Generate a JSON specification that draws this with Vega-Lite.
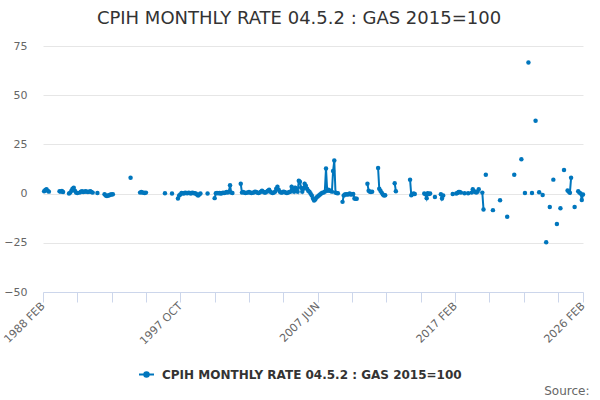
{
  "$schema": "https://vega.github.io/schema/vega-lite/v6.json",
  "autosize": "none",
  "width": 540,
  "height": 246,
  "padding": {"left": 43, "top": 46, "right": 17, "bottom": 108},
  "background": "white",
  "title": {
    "text": "CPIH MONTHLY RATE 04.5.2 : GAS 2015=100",
    "font": "DejaVu Sans",
    "fontSize": 18,
    "fontWeight": "normal",
    "color": "#333333",
    "anchor": "middle",
    "frame": "group",
    "offset": 12,
    "dx": -14
  },
  "config": {
    "view": {"stroke": null},
    "font": "DejaVu Sans"
  },
  "data": {
    "values": [
      {"d": "1988-03-01", "v": 1.2}, {"d": "1988-04-01", "v": 1.8}, {"d": "1988-05-01", "v": 2.2}, {"d": "1988-06-01", "v": 1.5}, {"d": "1988-07-01", "v": 1.0}, {"d": "1988-08-01", "v": null},
      {"d": "1989-04-01", "v": 1.2}, {"d": "1989-05-01", "v": 1.0}, {"d": "1989-06-01", "v": 1.3}, {"d": "1989-07-01", "v": 0.8}, {"d": "1989-08-01", "v": null},
      {"d": "1989-12-01", "v": 0.0}, {"d": "1990-01-01", "v": 0.5}, {"d": "1990-02-01", "v": 1.5}, {"d": "1990-03-01", "v": 2.5}, {"d": "1990-04-01", "v": 3.0}, {"d": "1990-05-01", "v": 1.5}, {"d": "1990-06-01", "v": 0.5}, {"d": "1990-07-01", "v": 0.3}, {"d": "1990-08-01", "v": null},
      {"d": "1990-09-01", "v": 0.5}, {"d": "1990-10-01", "v": 1.0}, {"d": "1990-11-01", "v": 1.2}, {"d": "1990-12-01", "v": 0.8}, {"d": "1991-01-01", "v": 1.0}, {"d": "1991-02-01", "v": 1.2}, {"d": "1991-03-01", "v": 1.0}, {"d": "1991-04-01", "v": 0.8}, {"d": "1991-05-01", "v": 1.0}, {"d": "1991-06-01", "v": 1.2}, {"d": "1991-07-01", "v": 0.8}, {"d": "1991-08-01", "v": 0.5}, {"d": "1991-09-01", "v": null},
      {"d": "1991-12-01", "v": 0.3}, {"d": "1992-01-01", "v": null},
      {"d": "1992-06-01", "v": -0.3}, {"d": "1992-07-01", "v": -1.0}, {"d": "1992-08-01", "v": -1.2}, {"d": "1992-09-01", "v": -1.0}, {"d": "1992-10-01", "v": -0.8}, {"d": "1992-11-01", "v": -0.5}, {"d": "1992-12-01", "v": -0.5}, {"d": "1993-01-01", "v": -0.3}, {"d": "1993-02-01", "v": null},
      {"d": "1994-04-01", "v": 8.1}, {"d": "1994-05-01", "v": null},
      {"d": "1994-12-01", "v": 0.5}, {"d": "1995-01-01", "v": 0.8}, {"d": "1995-02-01", "v": 0.5}, {"d": "1995-03-01", "v": 0.5}, {"d": "1995-04-01", "v": 0.3}, {"d": "1995-05-01", "v": 0.5}, {"d": "1995-06-01", "v": null},
      {"d": "1996-09-01", "v": 0.2}, {"d": "1996-10-01", "v": null},
      {"d": "1997-03-01", "v": 0.0}, {"d": "1997-04-01", "v": null},
      {"d": "1997-08-01", "v": -2.5}, {"d": "1997-09-01", "v": -1.0}, {"d": "1997-10-01", "v": -0.5}, {"d": "1997-11-01", "v": 0.3}, {"d": "1997-12-01", "v": 0.2}, {"d": "1998-01-01", "v": 0.0}, {"d": "1998-02-01", "v": 0.5}, {"d": "1998-03-01", "v": 0.3}, {"d": "1998-04-01", "v": 0.2}, {"d": "1998-05-01", "v": 0.5}, {"d": "1998-06-01", "v": 0.3}, {"d": "1998-07-01", "v": 0.0}, {"d": "1998-08-01", "v": 0.5}, {"d": "1998-09-01", "v": 0.3}, {"d": "1998-10-01", "v": 0.2}, {"d": "1998-11-01", "v": 0.0}, {"d": "1998-12-01", "v": -0.5}, {"d": "1999-01-01", "v": -1.0}, {"d": "1999-02-01", "v": -0.5}, {"d": "1999-03-01", "v": 0.0}, {"d": "1999-04-01", "v": null},
      {"d": "1999-09-01", "v": 0.0}, {"d": "1999-10-01", "v": null},
      {"d": "2000-03-01", "v": -2.3}, {"d": "2000-04-01", "v": 0.2}, {"d": "2000-05-01", "v": 0.3}, {"d": "2000-06-01", "v": 0.2}, {"d": "2000-07-01", "v": 0.3}, {"d": "2000-08-01", "v": 0.0}, {"d": "2000-09-01", "v": 0.2}, {"d": "2000-10-01", "v": 0.5}, {"d": "2000-11-01", "v": 0.3}, {"d": "2000-12-01", "v": 0.5}, {"d": "2001-01-01", "v": 0.8}, {"d": "2001-02-01", "v": 0.5}, {"d": "2001-03-01", "v": 1.0}, {"d": "2001-04-01", "v": 4.3}, {"d": "2001-05-01", "v": 0.5}, {"d": "2001-06-01", "v": 0.3}, {"d": "2001-07-01", "v": null},
      {"d": "2002-01-01", "v": 5.0}, {"d": "2002-02-01", "v": 0.5}, {"d": "2002-03-01", "v": 0.8}, {"d": "2002-04-01", "v": 0.5}, {"d": "2002-05-01", "v": 0.3}, {"d": "2002-06-01", "v": 0.5}, {"d": "2002-07-01", "v": 0.5}, {"d": "2002-08-01", "v": 0.8}, {"d": "2002-09-01", "v": 0.5}, {"d": "2002-10-01", "v": 0.3}, {"d": "2002-11-01", "v": 0.5},
      {"d": "2002-12-01", "v": 0.5}, {"d": "2003-01-01", "v": 1.0}, {"d": "2003-02-01", "v": 0.8}, {"d": "2003-03-01", "v": 0.5}, {"d": "2003-04-01", "v": 0.3}, {"d": "2003-05-01", "v": 0.5}, {"d": "2003-06-01", "v": 1.0}, {"d": "2003-07-01", "v": 1.5}, {"d": "2003-08-01", "v": 1.0}, {"d": "2003-09-01", "v": 0.5}, {"d": "2003-10-01", "v": 0.5}, {"d": "2003-11-01", "v": 1.0}, {"d": "2003-12-01", "v": 1.5}, {"d": "2004-01-01", "v": 2.0}, {"d": "2004-02-01", "v": 1.0}, {"d": "2004-03-01", "v": 0.5}, {"d": "2004-04-01", "v": 0.3},
      {"d": "2004-05-01", "v": 0.5}, {"d": "2004-06-01", "v": 1.0}, {"d": "2004-07-01", "v": 2.5}, {"d": "2004-08-01", "v": 3.5}, {"d": "2004-09-01", "v": 2.0}, {"d": "2004-10-01", "v": 1.0}, {"d": "2004-11-01", "v": 0.5}, {"d": "2004-12-01", "v": 0.5}, {"d": "2005-01-01", "v": 1.0}, {"d": "2005-02-01", "v": 0.8}, {"d": "2005-03-01", "v": 0.5}, {"d": "2005-04-01", "v": 0.3},
      {"d": "2005-05-01", "v": 0.5}, {"d": "2005-06-01", "v": 0.8}, {"d": "2005-07-01", "v": 1.0}, {"d": "2005-08-01", "v": 3.5}, {"d": "2005-09-01", "v": 2.5}, {"d": "2005-10-01", "v": 1.0}, {"d": "2005-11-01", "v": 3.0}, {"d": "2005-12-01", "v": 2.0}, {"d": "2006-01-01", "v": 1.0}, {"d": "2006-02-01", "v": 6.5}, {"d": "2006-03-01", "v": 6.0}, {"d": "2006-04-01", "v": 3.0}, {"d": "2006-05-01", "v": 1.0}, {"d": "2006-06-01", "v": 2.5}, {"d": "2006-07-01", "v": 5.0}, {"d": "2006-08-01", "v": 4.0}, {"d": "2006-09-01", "v": 2.5}, {"d": "2006-10-01", "v": 1.5},
      {"d": "2006-11-01", "v": 1.0}, {"d": "2006-12-01", "v": 0.0}, {"d": "2007-01-01", "v": -1.0}, {"d": "2007-02-01", "v": -2.5}, {"d": "2007-03-01", "v": -3.5}, {"d": "2007-04-01", "v": -3.0}, {"d": "2007-05-01", "v": -2.0}, {"d": "2007-06-01", "v": -1.5},
      {"d": "2007-07-01", "v": -1.0}, {"d": "2007-08-01", "v": -0.5}, {"d": "2007-09-01", "v": 0.0}, {"d": "2007-10-01", "v": 0.5}, {"d": "2007-11-01", "v": 0.5}, {"d": "2007-12-01", "v": 1.0},
      {"d": "2008-01-01", "v": 12.7}, {"d": "2008-02-01", "v": 1.5}, {"d": "2008-03-01", "v": 2.0}, {"d": "2008-04-01", "v": 1.5}, {"d": "2008-05-01", "v": 1.5}, {"d": "2008-06-01", "v": 1.0}, {"d": "2008-07-01", "v": 11.5}, {"d": "2008-08-01", "v": 16.8}, {"d": "2008-09-01", "v": 0.5}, {"d": "2008-10-01", "v": 0.3}, {"d": "2008-11-01", "v": 0.2}, {"d": "2008-12-01", "v": null},
      {"d": "2009-03-01", "v": -4.2}, {"d": "2009-04-01", "v": -1.0}, {"d": "2009-05-01", "v": -0.5}, {"d": "2009-06-01", "v": -0.3}, {"d": "2009-07-01", "v": -0.5}, {"d": "2009-08-01", "v": -0.3}, {"d": "2009-09-01", "v": 0.0}, {"d": "2009-10-01", "v": -0.5}, {"d": "2009-11-01", "v": -0.3}, {"d": "2009-12-01", "v": -0.2}, {"d": "2010-01-01", "v": -2.5}, {"d": "2010-02-01", "v": -2.6}, {"d": "2010-03-01", "v": -2.6}, {"d": "2010-04-01", "v": null},
      {"d": "2010-12-01", "v": 5.0}, {"d": "2011-01-01", "v": 1.5}, {"d": "2011-02-01", "v": 1.0}, {"d": "2011-03-01", "v": 0.8}, {"d": "2011-04-01", "v": 1.0}, {"d": "2011-05-01", "v": null},
      {"d": "2011-09-01", "v": 13.0}, {"d": "2011-10-01", "v": 2.5}, {"d": "2011-11-01", "v": 1.5}, {"d": "2011-12-01", "v": 0.5}, {"d": "2012-01-01", "v": -0.5}, {"d": "2012-02-01", "v": -1.0}, {"d": "2012-03-01", "v": -0.8}, {"d": "2012-04-01", "v": null},
      {"d": "2012-11-01", "v": 5.3}, {"d": "2012-12-01", "v": 1.2}, {"d": "2013-01-01", "v": null},
      {"d": "2013-12-01", "v": 7.1}, {"d": "2014-01-01", "v": -0.8}, {"d": "2014-02-01", "v": -0.3}, {"d": "2014-03-01", "v": 0.0}, {"d": "2014-04-01", "v": -0.2}, {"d": "2014-05-01", "v": null},
      {"d": "2014-12-01", "v": 0.0}, {"d": "2015-01-01", "v": -0.3}, {"d": "2015-02-01", "v": -2.3}, {"d": "2015-03-01", "v": 0.2}, {"d": "2015-04-01", "v": -0.2}, {"d": "2015-05-01", "v": 0.0}, {"d": "2015-06-01", "v": null},
      {"d": "2015-09-01", "v": -1.7}, {"d": "2015-10-01", "v": null},
      {"d": "2016-02-01", "v": -0.3}, {"d": "2016-03-01", "v": -2.5}, {"d": "2016-04-01", "v": -1.0}, {"d": "2016-05-01", "v": null},
      {"d": "2016-12-01", "v": -0.2}, {"d": "2017-01-01", "v": null},
      {"d": "2017-03-01", "v": 0.0}, {"d": "2017-04-01", "v": 0.3}, {"d": "2017-05-01", "v": 0.8}, {"d": "2017-06-01", "v": 0.8}, {"d": "2017-07-01", "v": 0.5}, {"d": "2017-08-01", "v": null},
      {"d": "2017-10-01", "v": 0.2}, {"d": "2017-11-01", "v": null},
      {"d": "2018-01-01", "v": 0.2}, {"d": "2018-02-01", "v": null},
      {"d": "2018-04-01", "v": 0.5}, {"d": "2018-05-01", "v": 2.2}, {"d": "2018-06-01", "v": 1.2}, {"d": "2018-07-01", "v": 0.8}, {"d": "2018-08-01", "v": 0.5}, {"d": "2018-09-01", "v": 1.0}, {"d": "2018-10-01", "v": 2.2}, {"d": "2018-11-01", "v": null},
      {"d": "2019-01-01", "v": 0.5}, {"d": "2019-02-01", "v": -8.1}, {"d": "2019-03-01", "v": null},
      {"d": "2019-04-01", "v": 9.6}, {"d": "2019-05-01", "v": null},
      {"d": "2019-10-01", "v": -8.4}, {"d": "2019-11-01", "v": null},
      {"d": "2020-04-01", "v": -3.4}, {"d": "2020-05-01", "v": null},
      {"d": "2020-10-01", "v": -11.8}, {"d": "2020-11-01", "v": null},
      {"d": "2021-04-01", "v": 9.6}, {"d": "2021-05-01", "v": null},
      {"d": "2021-10-01", "v": 17.4}, {"d": "2021-11-01", "v": null},
      {"d": "2022-01-01", "v": 0.3}, {"d": "2022-02-01", "v": null},
      {"d": "2022-04-01", "v": 66.6}, {"d": "2022-05-01", "v": null},
      {"d": "2022-07-01", "v": 0.3}, {"d": "2022-08-01", "v": null},
      {"d": "2022-10-01", "v": 37.0}, {"d": "2022-11-01", "v": null},
      {"d": "2023-01-01", "v": 0.7}, {"d": "2023-02-01", "v": null},
      {"d": "2023-04-01", "v": -0.7}, {"d": "2023-05-01", "v": null},
      {"d": "2023-07-01", "v": -24.7}, {"d": "2023-08-01", "v": null},
      {"d": "2023-10-01", "v": -6.8}, {"d": "2023-11-01", "v": null},
      {"d": "2024-01-01", "v": 7.1}, {"d": "2024-02-01", "v": null},
      {"d": "2024-04-01", "v": -15.4}, {"d": "2024-05-01", "v": null},
      {"d": "2024-07-01", "v": -7.4}, {"d": "2024-08-01", "v": null},
      {"d": "2024-10-01", "v": 12.0}, {"d": "2024-11-01", "v": null},
      {"d": "2025-01-01", "v": 1.6}, {"d": "2025-02-01", "v": 1.0}, {"d": "2025-03-01", "v": 0.4}, {"d": "2025-04-01", "v": 8.0}, {"d": "2025-05-01", "v": null},
      {"d": "2025-07-01", "v": -6.8}, {"d": "2025-08-01", "v": null},
      {"d": "2025-10-01", "v": 1.2}, {"d": "2025-11-01", "v": 0.5}, {"d": "2025-12-01", "v": 0.0}, {"d": "2026-01-01", "v": -3.2}, {"d": "2026-02-01", "v": -0.5}
    ]
  },
  "encoding": {
    "x": {
      "field": "d",
      "type": "temporal",
      "scale": {
        "type": "utc",
        "domain": [{"year": 1988, "month": 2, "date": 1, "utc": true}, {"year": 2026, "month": 2, "date": 1, "utc": true}]
      },
      "axis": {
        "title": "Source:",
        "titleAnchor": "end",
        "titleAlign": "right",
        "titleBaseline": "middle",
        "titleX": 546,
        "titleY": 98,
        "titleFont": "DejaVu Sans",
        "titleFontSize": 12,
        "titleFontWeight": "normal",
        "titleColor": "#666666",
        "values": [
          {"year": 1988, "month": 2, "date": 1, "utc": true},
          {"year": 1990, "month": 7, "date": 1, "utc": true},
          {"year": 1992, "month": 12, "date": 1, "utc": true},
          {"year": 1995, "month": 5, "date": 1, "utc": true},
          {"year": 1997, "month": 10, "date": 1, "utc": true},
          {"year": 2000, "month": 3, "date": 1, "utc": true},
          {"year": 2002, "month": 8, "date": 1, "utc": true},
          {"year": 2005, "month": 1, "date": 1, "utc": true},
          {"year": 2007, "month": 6, "date": 1, "utc": true},
          {"year": 2009, "month": 11, "date": 1, "utc": true},
          {"year": 2012, "month": 4, "date": 1, "utc": true},
          {"year": 2014, "month": 9, "date": 1, "utc": true},
          {"year": 2017, "month": 2, "date": 1, "utc": true},
          {"year": 2019, "month": 7, "date": 1, "utc": true},
          {"year": 2021, "month": 12, "date": 1, "utc": true},
          {"year": 2024, "month": 5, "date": 1, "utc": true},
          {"year": 2026, "month": 2, "date": 1, "utc": true}
        ],
        "labelExpr": "indexof(['1988-02','1997-10','2007-06','2017-02','2026-02'], utcFormat(datum.value, '%Y-%m')) >= 0 ? upper(utcFormat(datum.value, '%Y %b')) : ''",
        "labelAngle": -45,
        "labelAlign": "right",
        "labelBaseline": "middle",
        "labelPadding": 2,
        "labelFlush": false,
        "labelOverlap": false,
        "labelFont": "DejaVu Sans",
        "labelFontSize": 11,
        "labelColor": "#666666",
        "grid": false,
        "domainColor": "#ccd6eb",
        "domainWidth": 1,
        "tickColor": "#ccd6eb",
        "tickSize": 10,
        "tickWidth": 1
      }
    },
    "y": {
      "field": "v",
      "type": "quantitative",
      "scale": {"domain": [-50, 75], "nice": false, "zero": false},
      "axis": {
        "title": null,
        "values": [-50, -25, 0, 25, 50, 75],
        "domain": false,
        "ticks": false,
        "tickSize": 0,
        "labelPadding": 16,
        "labelFont": "DejaVu Sans",
        "labelFontSize": 11,
        "labelColor": "#666666",
        "gridColor": "#e6e6e6",
        "gridWidth": 1
      }
    },
    "color": {
      "datum": "CPIH MONTHLY RATE 04.5.2 : GAS 2015=100",
      "type": "nominal",
      "scale": {"range": ["#0076bd"]},
      "legend": {
        "title": null,
        "orient": "none",
        "legendX": 95,
        "legendY": 320,
        "symbolType": "M-1,0H1M-0.3,0A0.3,0.3,0,1,1,0.3,0A0.3,0.3,0,1,1,-0.3,0Z",
        "symbolSize": 225,
        "symbolStrokeWidth": 2,
        "labelFont": "DejaVu Sans",
        "labelFontSize": 12,
        "labelFontWeight": "bold",
        "labelColor": "#333333",
        "labelLimit": 600,
        "labelOffset": 7
      }
    }
  },
  "layer": [
    {"mark": {"type": "line", "strokeWidth": 2, "invalid": "break-paths-filter-domains"}},
    {"mark": {"type": "point", "filled": true, "size": 20, "opacity": 1}}
  ]
}
